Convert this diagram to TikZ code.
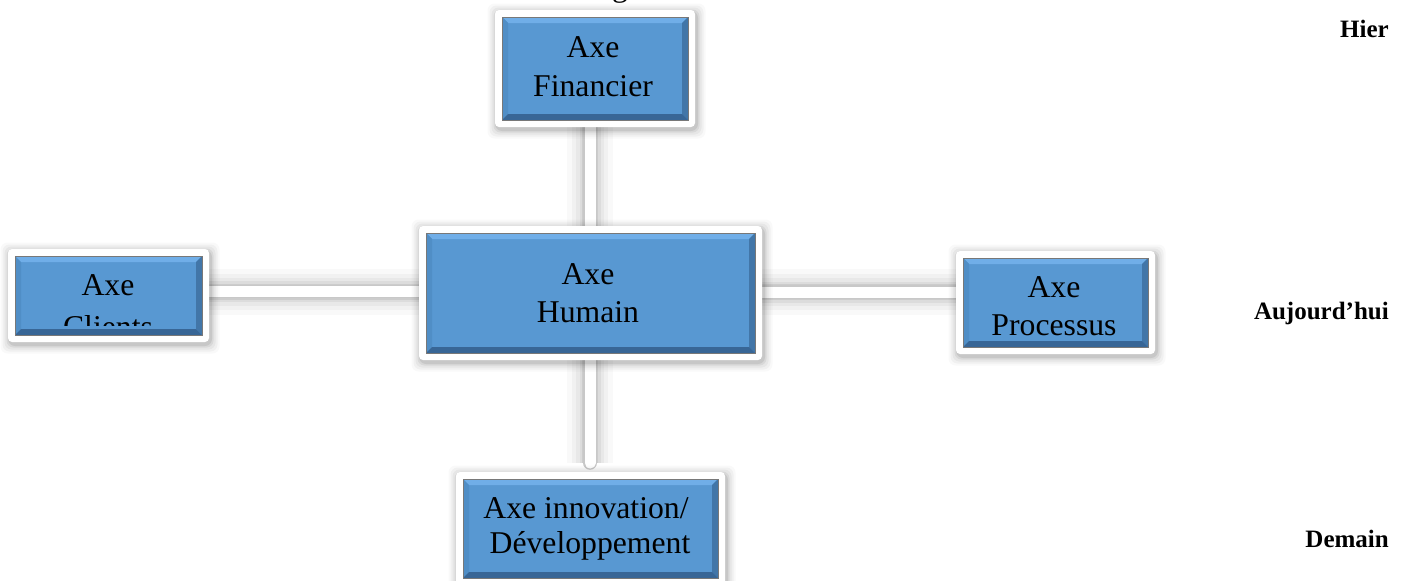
\documentclass[tikz,border=0pt]{standalone}
\usepackage{fontspec}
\setmainfont{Liberation Serif}
\usetikzlibrary{calc}

\definecolor{axeblue}{RGB}{88,152,210}
\definecolor{axelight}{RGB}{112,174,232}
\definecolor{axeleft}{RGB}{80,142,198}
\definecolor{axeright}{RGB}{66,118,168}
\definecolor{axedark}{RGB}{56,102,150}
\definecolor{axeline}{RGB}{120,120,120}
\definecolor{baredge}{RGB}{200,200,200}

\tikzset{
  boxspot/.style={inner sep=0pt, outer sep=0pt, draw=none},
  lbl/.style={font=\fontsize{31.7}{38}\selectfont, anchor=base, inner sep=0pt},
  side/.style={font=\bfseries\fontsize{25}{30}\selectfont, anchor=base east, inner sep=0pt},
  barglow/.style={line cap=butt},
  baredgeline/.style={draw=baredge, line width=13.5pt},
  barcore/.style={draw=white, line width=11pt},
}

% soft shadow, white frame, bevelled blue face and outline around node #1
\newcommand{\axeframe}[1]{%
  \foreach \s/\o in {9/0.025,7/0.035,5/0.045,3/0.06,1.5/0.08}{%
    \fill[black, opacity=\o, rounded corners=7pt]
      ($(#1.north west)+(-7-\s+1.5,-7-\s+2.5)$) rectangle
      ($(#1.south east)+(7+\s+1.5,7+\s+2.5)$);
  }
  \fill[white, rounded corners=4pt]
    ($(#1.north west)+(-7,-7)$) rectangle ($(#1.south east)+(7,7)$);
  \fill[axeblue] (#1.north west) rectangle (#1.south east);
  \fill[axelight] (#1.north west) -- (#1.north east)
    -- ($(#1.north east)+(-6,6)$) -- ($(#1.north west)+(6,6)$) -- cycle;
  \fill[axeleft] (#1.north west) -- ($(#1.north west)+(6,6)$)
    -- ($(#1.south west)+(6,-6)$) -- (#1.south west) -- cycle;
  \fill[axeright] (#1.north east) -- ($(#1.north east)+(-6,6)$)
    -- ($(#1.south east)+(-6,-6)$) -- (#1.south east) -- cycle;
  \fill[axedark] (#1.south west) -- ($(#1.south west)+(6,-6)$)
    -- ($(#1.south east)+(-6,-6)$) -- (#1.south east) -- cycle;
  \draw[axeline, line width=1pt] (#1.north west) rectangle (#1.south east);
}

% white connector bar with a soft grey glow
\newcommand{\axebar}[3][butt]{%
  \foreach \w/\o in {46/0.025,36/0.03,28/0.04,21/0.05,16/0.07}{%
    \draw[barglow, black, opacity=\o, line width=\w pt] #2 -- #3;
  }
  \draw[baredgeline, line cap=#1] #2 -- #3;
  \draw[barcore, line cap=#1] #2 -- #3;
}

\begin{document}
\begin{tikzpicture}[x=1pt, y=-1pt]
  \useasboundingbox (0,0) rectangle (1406,581);

  % box faces
  \node[boxspot, minimum width=186pt, minimum height=103pt] (fin) at (595,68.5) {};
  \node[boxspot, minimum width=187pt, minimum height=79pt]  (cli) at (108.5,295.5) {};
  \node[boxspot, minimum width=329pt, minimum height=120pt] (hum) at (590.5,293) {};
  \node[boxspot, minimum width=185pt, minimum height=89pt]  (pro) at (1055.5,302.5) {};
  \node[boxspot, minimum width=255pt, minimum height=99pt]  (inn) at (590.5,528.5) {};
  \coordinate (innend) at ([xshift=-0.5pt, yshift=16pt]inn.north);

  % connectors
  \axebar{([xshift=-5pt]fin.south)}{([xshift=-0.5pt]hum.north)}
  \axebar{([yshift=4pt]cli.east)}{([yshift=1.5pt]hum.west)}
  \axebar{([yshift=1pt]hum.east)}{([yshift=10.5pt]pro.west)}
  \axebar[round]{([xshift=-0.5pt]hum.south)}{(innend)}

  % boxes
  \axeframe{fin}
  \axeframe{cli}
  \axeframe{hum}
  \axeframe{pro}
  \axeframe{inn}

  % box labels
  \node[lbl] (fin1) at (593,57) {Axe};
  \node[lbl] (fin2) at (593,96.5) {Financier};
  \node[lbl] (hum1) at (588,284.5) {Axe};
  \node[lbl] (hum2) at (588,322.5) {Humain};
  \node[lbl] (pro1) at (1054,297) {Axe};
  \node[lbl] (pro2) at (1054,335) {Processus};
  \node[lbl] (inn1) at (586,518) {Axe innovation/};
  \node[lbl] (inn2) at (590,553) {Développement};
  \begin{scope}
    \clip (cli.north west) rectangle ([yshift=10pt]cli.south east);
    \node[lbl] (cli1) at (108,295) {Axe};
    \node[lbl] (cli2) at (108,337) {Clients};
  \end{scope}

  % heading descender at the top edge
  \begin{scope}
    \clip (0,0) rectangle (1406,581);
    \node[lbl] (head) at (620,-4) {g};
  \end{scope}

  % time labels
  \node[side] (hier) at (1389,37) {Hier};
  \node[side] (auj)  at (1389,319) {Aujourd’hui};
  \node[side] (dem)  at (1389,547) {Demain};
\end{tikzpicture}
\end{document}
